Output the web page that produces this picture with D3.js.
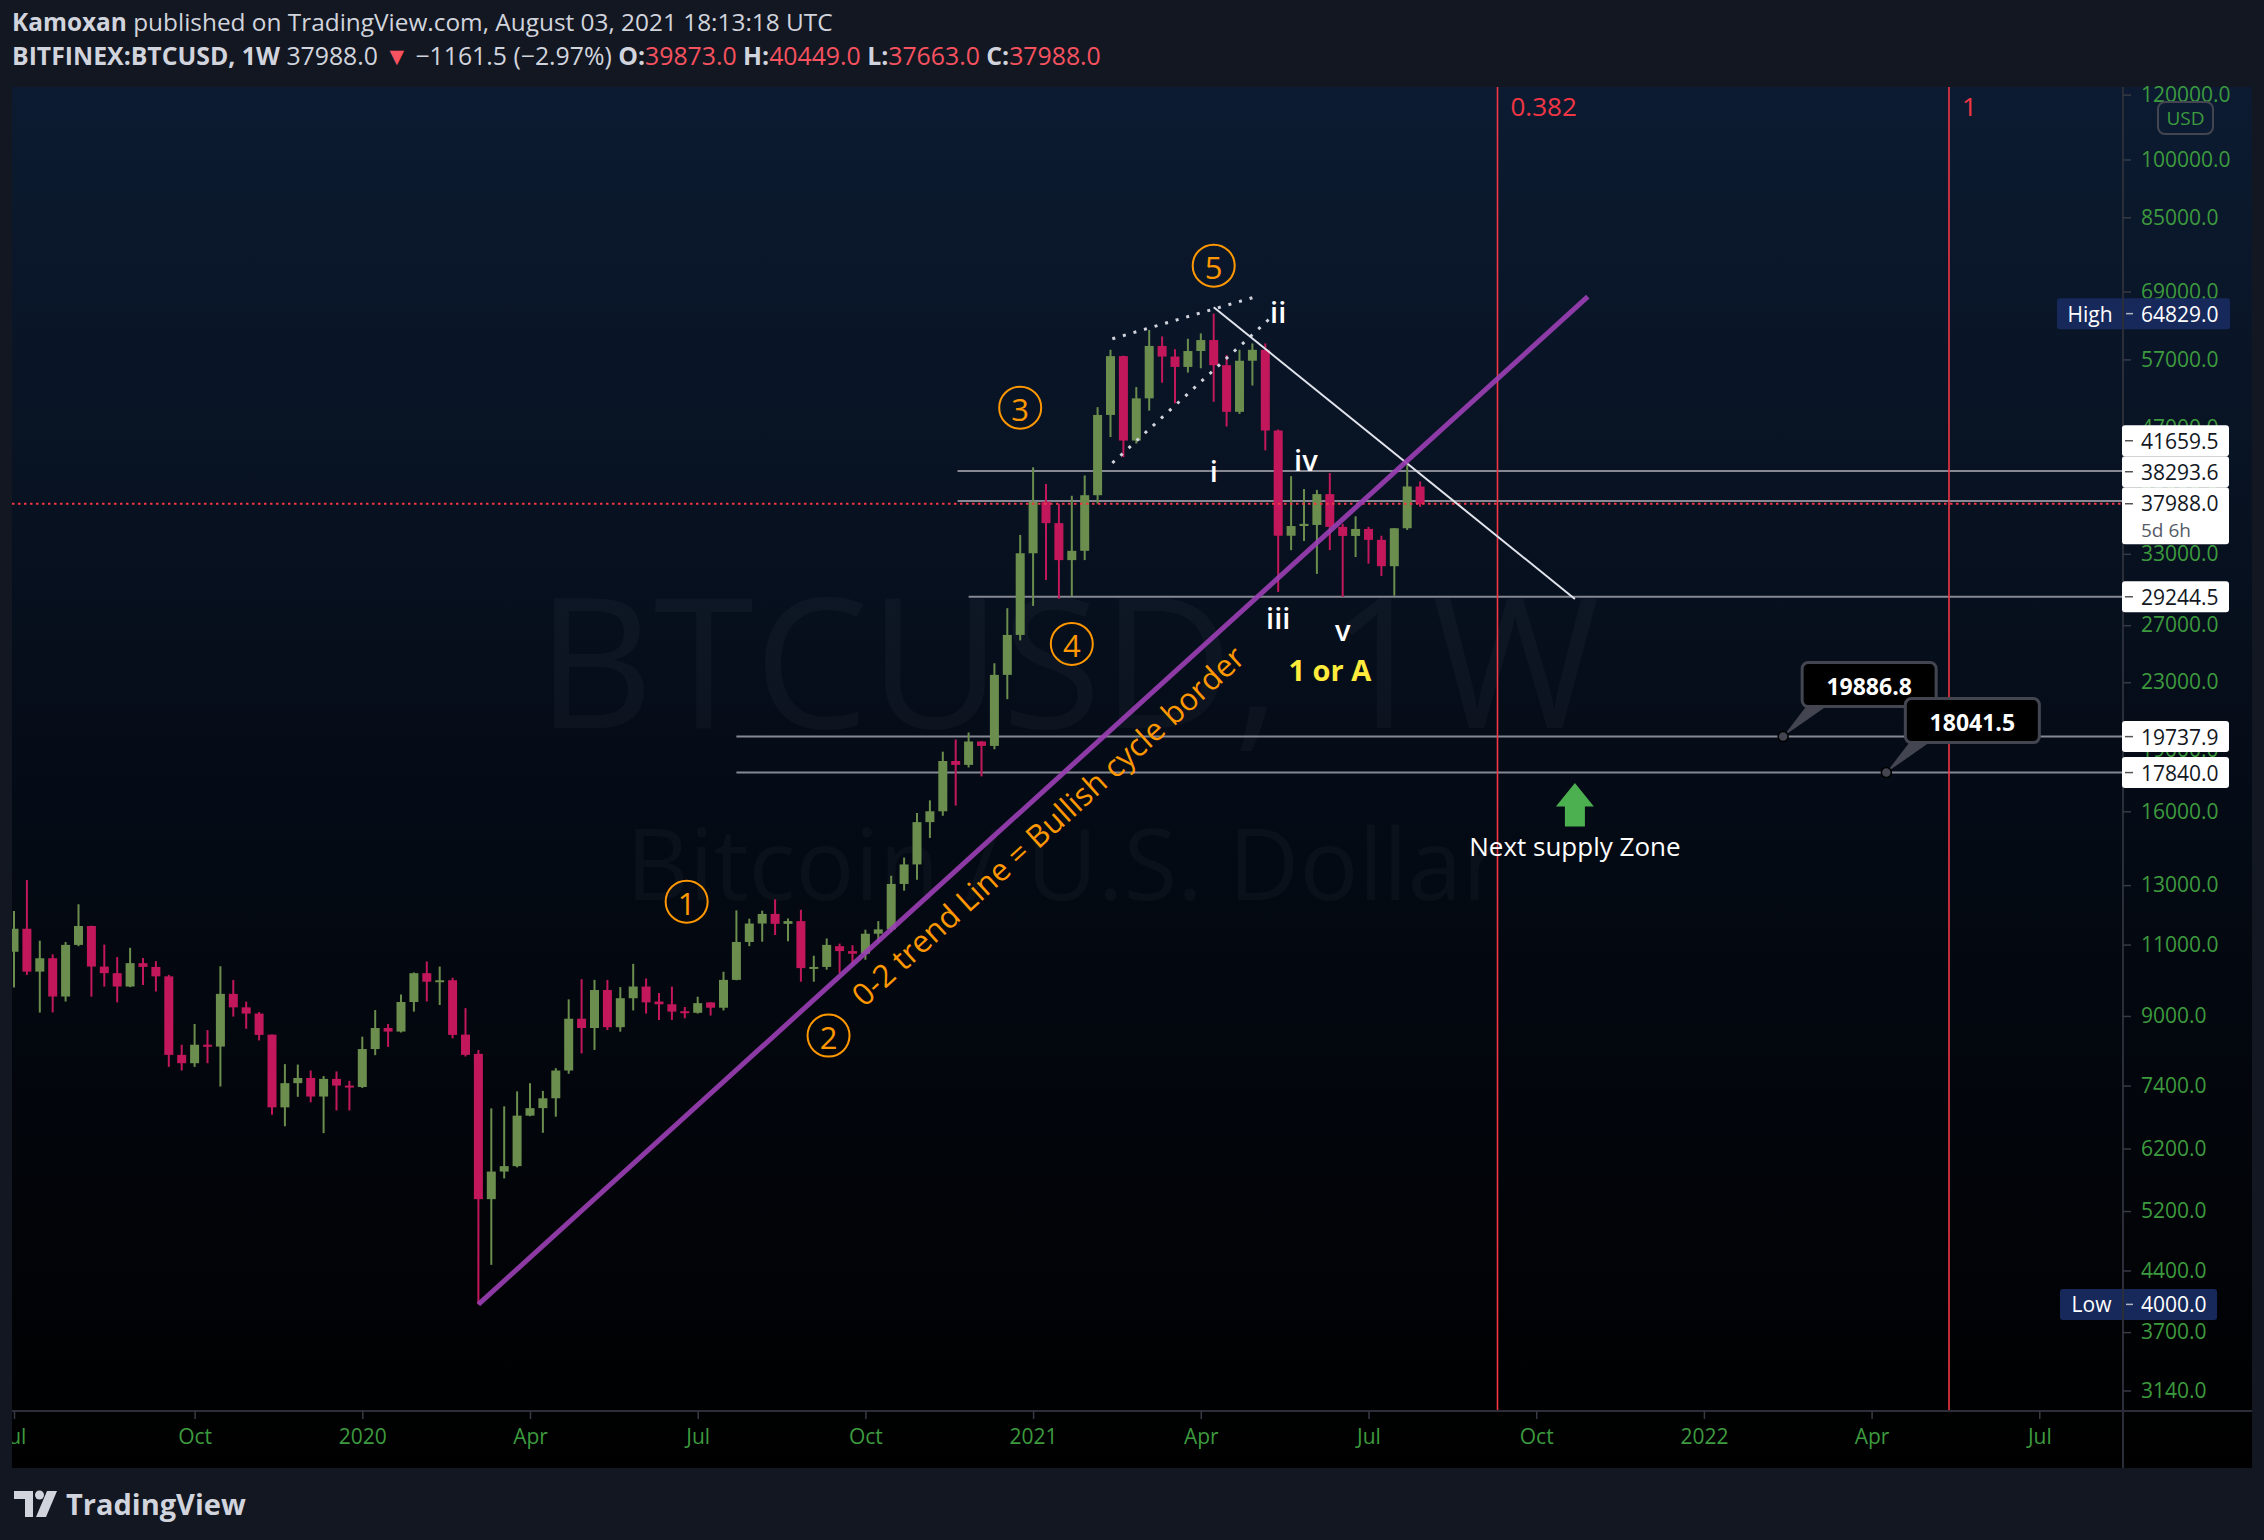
<!DOCTYPE html>
<html><head><meta charset="utf-8">
<script src="https://cdn.jsdelivr.net/npm/d3@7"></script>
<style>
html,body{margin:0;padding:0;background:#131722;overflow:hidden;}
svg{display:block;}
</style></head><body>
<svg id="chart" width="2264" height="1540"></svg>
<script>
// ---------------- DATA ----------------
const startWeek = "2019-07-01"; // first weekly bar (Monday)
const opens = [10780,11500,10195,10585,9505,10990,11590,10340,10150,9776,10440,10330,10060,8067,7880,8300,8257,9576,9220,9060,8540,6960,7450,7560,7175,7540,7400,7370,8200,8700,8613,9360,10150,9910,9950,8540,8090,5377,5811,5900,6800,6945,7140,7720,8930,8700,9680,8720,9460,9776,9373,9300,9120,9080,9350,9210,9960,11080,11670,11990,11660,11750,10295,10330,10950,10800,10720,11340,11480,13044,13780,15520,16000,18430,18230,19470,19230,23480,26270,33050,38210,35970,32420,33280,38910,48760,57530,45370,51090,59200,57460,55810,58360,60190,56080,49190,56790,58560,46670,34720,35680,35790,39030,35600,34700,35390,34320,31870,35460,39873];
const highs = [12090,13190,11120,10700,11080,12320,11600,11000,10620,10900,10590,10500,10100,8300,8800,8650,10350,9960,9370,9100,8540,7860,7850,7720,7600,7700,7500,8490,9150,8800,9560,10170,10490,10340,10020,9200,8180,6940,6980,7280,7450,7290,7770,9430,9980,9960,9960,9760,10420,10000,9600,9776,9230,9500,9350,10190,12110,11830,12100,12490,11840,12130,10660,11190,11030,10980,11470,11750,13350,14050,15920,16500,18920,19580,19970,19500,24260,28320,34800,42090,40160,38000,38850,41130,49840,58560,57600,52740,61920,60800,58640,60400,61330,64829,57700,58560,59620,59620,46800,41050,39590,39500,41420,35900,36670,35600,34720,35460,42330,40449];
const lows = [9750,10100,9086,9090,9373,10950,9500,9776,9350,9760,9820,9640,7800,7720,7800,7880,7380,8984,8680,8400,6816,6600,7170,7060,6474,6900,6900,7350,8060,8250,8590,9110,9373,9280,8450,8030,4000,4470,5700,5880,6790,6480,6780,7650,8100,8180,8650,8610,9140,9060,8900,8900,8940,9060,9010,9140,9950,10950,11090,11300,11100,9910,9910,10250,10150,10400,10540,11090,11400,12800,13200,14845,15800,16260,18100,17650,19050,21930,25870,28500,30660,29080,29300,32420,38000,45820,43310,45000,49360,53390,50400,54930,55600,50600,47200,48900,52970,44140,29640,33340,34200,31190,33340,29240,32700,32100,31000,29330,35290,37663];
const closes = [11500,10195,10585,9505,10990,11590,10340,10150,9776,10440,10330,10060,8067,7880,8300,8257,9576,9220,9060,8533,6960,7450,7560,7175,7540,7400,7370,8200,8700,8613,9360,10150,9910,9950,8533,8067,5377,5811,5900,6800,6945,7140,7720,8930,8700,9680,8720,9460,9776,9350,9300,9110,9080,9330,9210,9960,11080,11670,11990,11660,11750,10295,10330,10990,10800,10720,11340,11480,13044,13780,15520,16000,18430,18230,19470,19230,23480,26270,33050,38210,35970,32420,33280,38910,48760,57530,45370,51090,59200,57460,55810,58360,60190,56080,49190,56790,58560,46670,34720,35680,35900,39030,35600,34700,35390,34320,31870,35460,39880,37988];

const timeTickDates = ["2019-07-01","2019-10-07","2020-01-06","2020-04-06","2020-07-06","2020-10-05","2021-01-04","2021-04-05","2021-07-05","2021-10-04","2022-01-03","2022-04-04","2022-07-04"];
const timeTickLabels = ["Jul","Oct","2020","Apr","Jul","Oct","2021","Apr","Jul","Oct","2022","Apr","Jul"];
const priceTicks = [120000,100000,85000,69000,57000,47000,39000,33000,27000,23000,19000,16000,13000,11000,9000,7400,6200,5200,4400,3700,3140];

const lastPrice = 37988.0;
const levelPrices = [41659.5, 38293.6, 29244.5, 19737.9, 17840.0];
const levelStarts = ["2020-11-24","2020-11-24","2020-11-30","2020-07-27","2020-07-27"];
const highPrice = 64829.0, lowPrice = 4000.0;

const fibDates = ["2021-09-13","2022-05-16"];
const fibLabels = ["0.382","1"];

const trendLine = [["2020-03-09",4000],["2021-11-01",68000]];
const downLine = [["2021-04-12",66000],["2021-10-25",29070]];
const wedgeUpper = [["2021-02-16",60400],["2021-05-03",67800]];
const wedgeLower = [["2021-02-16",42600],["2021-05-14",64400]];

const circleLabels = ["1","2","3","4","5"];
const circleDates = ["2020-06-30","2020-09-15","2020-12-28","2021-01-25","2021-04-12"];
const circlePrices = [12410,8516,49770,25615,74190];

const romanLabels = ["i","ii","iii","iv","v"];
const romanDates = ["2021-04-12","2021-05-17","2021-05-17","2021-06-01","2021-06-21"];
const romanPrices = [41690,65190,27560,43070,26640];

const calloutTexts = ["19886.8","18041.5"];
const calloutDates = ["2022-02-15","2022-04-12"];
const calloutPrices = [19737.9,17840.0];

// ---------------- LAYOUT ----------------
const W = 2264, H = 1540;
const PL = 12, PR = 2123, PT = 87, PB = 1411, PANR = 2252, PANB = 1468;
const FONT = "'Open Sans', 'Noto Sans', sans-serif";
const GREEN = "#6b8e4e", RED = "#c2185b", AXG = "#3d9a3e", TXT = "#d1d4dc", PRED = "#f23645";

const parse = d3.utcParse("%Y-%m-%d");
const dates = opens.map((_, i) => d3.utcMonday.offset(parse(startWeek), i));
const candles = dates.map((d, i) => ({date: d, o: opens[i], h: highs[i], l: lows[i], c: closes[i]}));

const x = d3.scaleUtc().domain([parse("2019-07-01"), parse("2022-07-04")]).range([14, 14 + 157 * 12.9]);
const y = d3.scaleLog().domain([2964, 122600]).range([PB, PT]);
const P = ([d, p]) => [x(parse(d)), y(p)];

const svg = d3.select("#chart");
const defs = svg.append("defs");
const grad = defs.append("linearGradient").attr("id", "bg").attr("x1", 0).attr("y1", 0).attr("x2", 0).attr("y2", 1);
grad.append("stop").attr("offset", "0%").attr("stop-color", "#0c1b31");
grad.append("stop").attr("offset", "55%").attr("stop-color", "#040a14");
grad.append("stop").attr("offset", "100%").attr("stop-color", "#000000");
defs.append("clipPath").attr("id", "plot").append("rect").attr("x", PL).attr("y", PT).attr("width", PR - PL).attr("height", PB - PT);

// page background
svg.append("rect").attr("width", W).attr("height", H).attr("fill", "#131722");

// header
const h1 = svg.append("text").attr("x", 12).attr("y", 31).attr("font-family", FONT).attr("font-size", 24.4).attr("fill", TXT);
h1.append("tspan").attr("font-weight", "bold").text("Kamoxan");
h1.append("tspan").text(" published on TradingView.com, August 03, 2021 18:13:18 UTC");
const h2 = svg.append("text").attr("x", 12).attr("y", 65).attr("font-family", FONT).attr("font-size", 24.8).attr("fill", TXT);
h2.append("tspan").attr("font-weight", "bold").text("BITFINEX:BTCUSD, 1W");
h2.append("tspan").text(" 37988.0");
h2.append("tspan").attr("fill", "#f7525f").text(" ▼");
h2.append("tspan").text(" −1161.5 (−2.97%) ");
[["O:", "39873.0"], ["H:", "40449.0"], ["L:", "37663.0"], ["C:", "37988.0"]].forEach(([k, v], i) => {
  h2.append("tspan").attr("font-weight", "bold").text((i ? " " : "") + k);
  h2.append("tspan").attr("fill", "#f7525f").text(v);
});

// panel
svg.append("rect").attr("x", PL).attr("y", PT).attr("width", PANR - PL).attr("height", PANB - PT).attr("fill", "url(#bg)");

// watermark
svg.append("text").attr("x", 1068).attr("y", 657).attr("text-anchor", "middle").attr("dominant-baseline", "central")
  .attr("font-family", FONT).attr("font-size", 182).attr("fill", "#ffffff").attr("fill-opacity", 0.03).text("BTCUSD, 1W");
svg.append("text").attr("x", 1064).attr("y", 862).attr("text-anchor", "middle").attr("dominant-baseline", "central")
  .attr("font-family", FONT).attr("font-size", 98).attr("fill", "#ffffff").attr("fill-opacity", 0.03).text("Bitcoin / U.S. Dollar");

const plot = svg.append("g").attr("clip-path", "url(#plot)");

// horizontal levels
levelPrices.forEach((p, i) => {
  plot.append("line").attr("x1", x(parse(levelStarts[i]))).attr("x2", PR).attr("y1", y(p)).attr("y2", y(p))
    .attr("stroke", "#868993").attr("stroke-width", 2);
});

// fib vertical lines
fibDates.forEach((d, i) => {
  const fx = x(parse(d));
  plot.append("line").attr("x1", fx).attr("x2", fx).attr("y1", PT).attr("y2", PB).attr("stroke", PRED).attr("stroke-width", 1.6);
  plot.append("text").attr("x", fx + 13).attr("y", 106).attr("dominant-baseline", "central").attr("font-family", FONT)
    .attr("font-size", 26).attr("fill", PRED).text(fibLabels[i]);
});

// candles
const cg = plot.append("g");
candles.forEach(k => {
  const cx = x(k.date), col = k.c >= k.o ? GREEN : RED;
  cg.append("line").attr("x1", cx).attr("x2", cx).attr("y1", y(k.h)).attr("y2", y(k.l)).attr("stroke", col).attr("stroke-width", 2);
  const yt = y(Math.max(k.o, k.c)), yb = y(Math.min(k.o, k.c));
  cg.append("rect").attr("x", cx - 4.5).attr("y", yt).attr("width", 9).attr("height", Math.max(2, yb - yt)).attr("fill", col);
});

// last price dotted line
plot.append("line").attr("x1", PL).attr("x2", PR).attr("y1", y(lastPrice)).attr("y2", y(lastPrice))
  .attr("stroke", PRED).attr("stroke-width", 2).attr("stroke-dasharray", "2.5,3.5");

// wedge dotted lines
[wedgeUpper, wedgeLower].forEach(seg => {
  const [a, b] = seg.map(P);
  plot.append("line").attr("x1", a[0]).attr("y1", a[1]).attr("x2", b[0]).attr("y2", b[1])
    .attr("stroke", "#d1d4dc").attr("stroke-width", 3).attr("stroke-dasharray", "3,8");
});

// down trend (white)
{
  const [a, b] = downLine.map(P);
  plot.append("line").attr("x1", a[0]).attr("y1", a[1]).attr("x2", b[0]).attr("y2", b[1]).attr("stroke", "#e0e3eb").attr("stroke-width", 2);
}

// purple trend line + text
{
  const [a, b] = trendLine.map(P);
  plot.append("line").attr("x1", a[0]).attr("y1", a[1]).attr("x2", b[0]).attr("y2", b[1])
    .attr("stroke", "#9c3fb6").attr("stroke-opacity", 0.9).attr("stroke-width", 5);
  const ang = Math.atan2(b[1] - a[1], b[0] - a[0]) * 180 / Math.PI;
  const t = 0.496, mx = a[0] + (b[0] - a[0]) * t, my = a[1] + (b[1] - a[1]) * t;
  plot.append("text").attr("transform", `translate(${mx},${my}) rotate(${ang})`).attr("x", 0).attr("y", 28)
    .attr("text-anchor", "middle").attr("dominant-baseline", "central").attr("font-family", FONT).attr("font-size", 31)
    .attr("fill", "#ff9800").text("0-2 trend Line = Bullish cycle border");
}

// circled wave labels
circleLabels.forEach((t, i) => {
  const cx = x(parse(circleDates[i])), cy = y(circlePrices[i]);
  plot.append("circle").attr("cx", cx).attr("cy", cy).attr("r", 21).attr("fill", "none").attr("stroke", "#ff9800").attr("stroke-width", 2);
  plot.append("text").attr("x", cx).attr("y", cy + 1).attr("text-anchor", "middle").attr("dominant-baseline", "central")
    .attr("font-family", FONT).attr("font-size", 31).attr("fill", "#ff9800").text(t);
});

// roman wave labels
romanLabels.forEach((t, i) => {
  plot.append("text").attr("x", x(parse(romanDates[i]))).attr("y", y(romanPrices[i])).attr("text-anchor", "middle")
    .attr("dominant-baseline", "central").attr("font-family", FONT).attr("font-size", 29).attr("font-weight", 600).attr("fill", "#ffffff").text(t);
});
plot.append("text").attr("x", x(parse("2021-06-14"))).attr("y", y(23810)).attr("text-anchor", "middle").attr("dominant-baseline", "central")
  .attr("font-family", FONT).attr("font-weight", "bold").attr("font-size", 29).attr("fill", "#ffeb3b").text("1 or A");

// next supply zone arrow + text
{
  const ax = x(parse("2021-10-25")), ay = y(17330);
  plot.append("path").attr("d", `M${ax},${ay} L${ax + 19},${ay + 23.5} L${ax + 10},${ay + 23.5} L${ax + 10},${ay + 43.5} L${ax - 10},${ay + 43.5} L${ax - 10},${ay + 23.5} L${ax - 19},${ay + 23.5} Z`)
    .attr("fill", "#4caf50");
  plot.append("text").attr("x", ax).attr("y", ay + 63).attr("text-anchor", "middle").attr("dominant-baseline", "central")
    .attr("font-family", FONT).attr("font-size", 26).attr("fill", "#ffffff").text("Next supply Zone");
}

// callouts
calloutTexts.forEach((t, i) => {
  const dx = x(parse(calloutDates[i])), dy = y(calloutPrices[i]);
  const bl = dx + 19, bt = dy - 74, bw = 134, bh = 44;
  plot.append("path").attr("d", `M${bl + 4},${bt + bh} L${dx},${dy} L${bl + 24},${bt + bh} Z`).attr("fill", "#434651");
  plot.append("rect").attr("x", bl).attr("y", bt).attr("width", bw).attr("height", bh).attr("rx", 6)
    .attr("fill", "#000000").attr("stroke", "#434651").attr("stroke-width", 3);
  plot.append("text").attr("x", bl + bw / 2).attr("y", bt + bh / 2 + 1).attr("text-anchor", "middle").attr("dominant-baseline", "central")
    .attr("font-family", FONT).attr("font-weight", "bold").attr("font-size", 23).attr("fill", "#ffffff").text(t);
  plot.append("circle").attr("cx", dx).attr("cy", dy).attr("r", 5).attr("fill", "#434651").attr("stroke", "#000").attr("stroke-width", 1.5);
});

// ---------------- AXES ----------------
svg.append("line").attr("x1", PR).attr("x2", PR).attr("y1", PT).attr("y2", PANB).attr("stroke", "#2a2e39").attr("stroke-width", 2);
svg.append("line").attr("x1", PL).attr("x2", PANR).attr("y1", PB).attr("y2", PB).attr("stroke", "#2a2e39").attr("stroke-width", 2);

const yAxis = svg.append("g").attr("transform", `translate(${PR},0)`)
  .call(d3.axisRight(y).tickValues(priceTicks).tickFormat(d3.format(".1f")).tickSize(8).tickPadding(10));
yAxis.select(".domain").remove();
yAxis.selectAll(".tick line").attr("stroke", "#363a45").attr("stroke-width", 1.5);
yAxis.selectAll(".tick text").attr("fill", AXG).attr("font-family", FONT).attr("font-size", 21);

const xAxis = svg.append("g").attr("transform", `translate(0,${PB})`)
  .call(d3.axisBottom(x).tickValues(timeTickDates.map(parse)).tickFormat((d, i) => timeTickLabels[i]).tickSize(8).tickPadding(10));
xAxis.select(".domain").remove();
xAxis.selectAll(".tick line").attr("stroke", "#363a45").attr("stroke-width", 1.5);
xAxis.selectAll(".tick text").attr("fill", AXG).attr("font-family", FONT).attr("font-size", 21);
svg.append("rect").attr("x", 0).attr("y", PB + 2).attr("width", PL).attr("height", PANB - PB).attr("fill", "#131722");

// USD badge
svg.append("rect").attr("x", 2158).attr("y", 102).attr("width", 55).attr("height", 32).attr("rx", 7)
  .attr("fill", "#0c1b31").attr("stroke", "#434651").attr("stroke-width", 2);
svg.append("text").attr("x", 2185.5).attr("y", 118).attr("text-anchor", "middle").attr("dominant-baseline", "central")
  .attr("font-family", FONT).attr("font-size", 19).attr("fill", AXG).text("USD");

// price labels (stacked like TradingView)
const axLab = svg.append("g");
function whiteLabel(cy, txt, h) {
  axLab.append("rect").attr("x", PR - 1).attr("y", cy - h / 2).attr("width", 107).attr("height", h).attr("rx", 3).attr("fill", "#ffffff");
  axLab.append("line").attr("x1", PR + 2).attr("x2", PR + 10).attr("y1", cy).attr("y2", cy).attr("stroke", "#555").attr("stroke-width", 1.5);
  axLab.append("text").attr("x", PR + 18).attr("y", cy).attr("dominant-baseline", "central").attr("font-family", FONT)
    .attr("font-size", 21).attr("fill", "#131722").text(txt);
}
const lastY = y(lastPrice);
const lastTop = lastY - 16.5, lastBot = lastY + 40.5;
axLab.append("rect").attr("x", PR - 1).attr("y", lastTop).attr("width", 107).attr("height", lastBot - lastTop).attr("rx", 3).attr("fill", "#ffffff");
axLab.append("line").attr("x1", PR + 2).attr("x2", PR + 10).attr("y1", lastY).attr("y2", lastY).attr("stroke", "#555").attr("stroke-width", 1.5);
axLab.append("text").attr("x", PR + 18).attr("y", lastY - 1).attr("dominant-baseline", "central").attr("font-family", FONT)
  .attr("font-size", 21).attr("fill", "#131722").text(d3.format(".1f")(lastPrice));
axLab.append("text").attr("x", PR + 18).attr("y", lastY + 26).attr("dominant-baseline", "central").attr("font-family", FONT)
  .attr("font-size", 19).attr("fill", "#555b66").text("5d 6h");
{
  const above = levelPrices.filter(p => p > lastPrice).sort((a, b) => a - b);
  let bound = lastTop;
  above.forEach(p => { const cy = Math.min(y(p), bound - 15.5); whiteLabel(cy, d3.format(".1f")(p), 31); bound = cy - 15.5; });
  const below = levelPrices.filter(p => p < lastPrice).sort((a, b) => b - a);
  bound = lastBot;
  below.forEach(p => { const cy = Math.max(y(p), bound + 15.5); whiteLabel(cy, d3.format(".1f")(p), 31); bound = cy + 15.5; });
}

// High / Low badges
[["High", highPrice, 2057, 2230], ["Low", lowPrice, 2060, 2217]].forEach(([name, p, left, right]) => {
  const cy = y(p);
  svg.append("rect").attr("x", left).attr("y", cy - 15.5).attr("width", right - left).attr("height", 31).attr("rx", 3).attr("fill", "#17295a");
  svg.append("line").attr("x1", PR).attr("x2", PR).attr("y1", cy - 15.5).attr("y2", cy + 15.5).attr("stroke", "#2a2e39").attr("stroke-width", 2);
  svg.append("text").attr("x", (left + PR) / 2).attr("y", cy).attr("text-anchor", "middle").attr("dominant-baseline", "central")
    .attr("font-family", FONT).attr("font-size", 21).attr("fill", "#ffffff").text(name);
  svg.append("line").attr("x1", PR + 3).attr("x2", PR + 10).attr("y1", cy).attr("y2", cy).attr("stroke", "#b2b5be").attr("stroke-width", 1.5);
  svg.append("text").attr("x", PR + 18).attr("y", cy).attr("dominant-baseline", "central")
    .attr("font-family", FONT).attr("font-size", 21).attr("fill", "#ffffff").text(d3.format(".1f")(p));
});

// footer logo
const lg = svg.append("g").attr("fill", "#d1d4dc");
lg.append("path").attr("d", "M14,1491 H33 V1517 H25 V1499 H14 Z");
lg.append("circle").attr("cx", 39.5).attr("cy", 1495).attr("r", 4.5);
lg.append("path").attr("d", "M47,1491 H57 L46,1517 H36 Z");
svg.append("text").attr("x", 66).attr("y", 1503).attr("dominant-baseline", "central").attr("font-family", FONT)
  .attr("font-weight", "bold").attr("font-size", 29).attr("fill", "#d1d4dc").text("TradingView");
</script>
</body></html>
